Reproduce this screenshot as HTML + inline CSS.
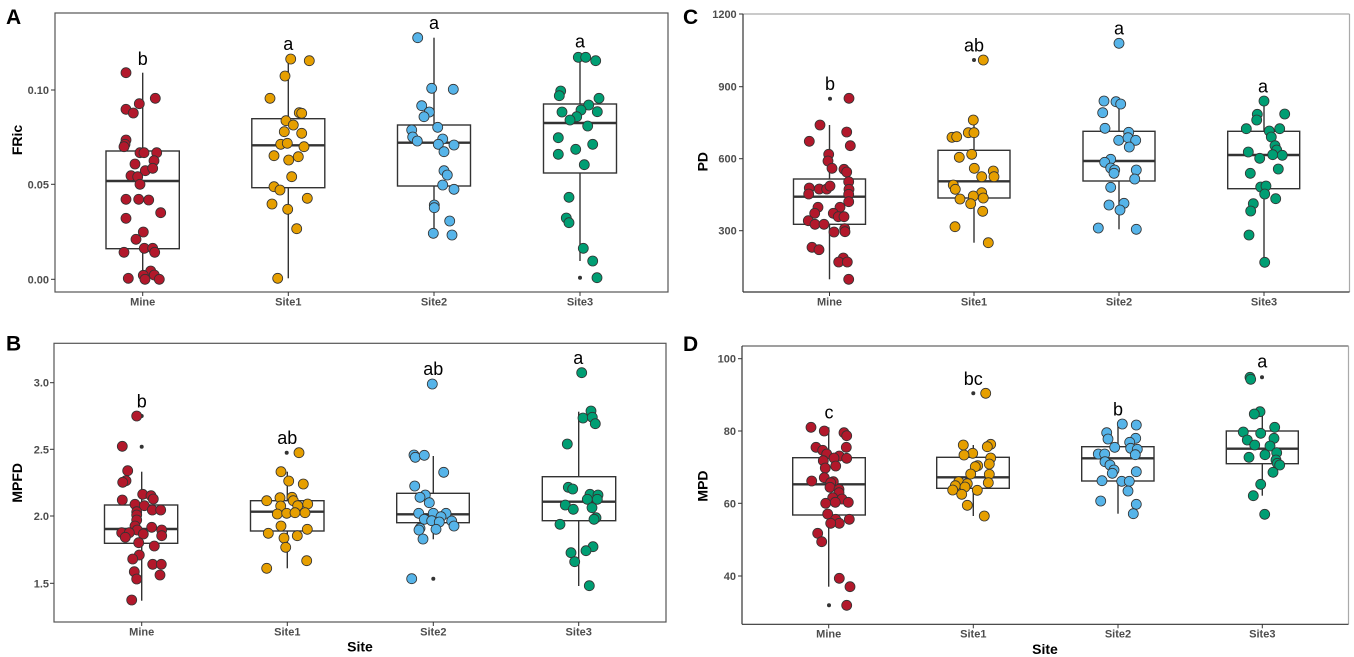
<!DOCTYPE html>
<html><head><meta charset="utf-8"><style>
html,body{margin:0;padding:0;background:#fff;}
svg{display:block;}
text{font-family:"Liberation Sans",Arial,sans-serif;}
.tl{font-size:11px;font-weight:bold;fill:#4D4D4D;}
.at{font-size:14px;font-weight:bold;fill:#000;}
.pl{font-size:21px;font-weight:bold;fill:#000;}
.lt{font-size:18px;fill:#000;}
.r circle{fill:#B2182B;stroke:#333;stroke-width:0.8;}
.o circle{fill:#E69F00;stroke:#333;stroke-width:0.8;}
.b circle{fill:#56B4E9;stroke:#333;stroke-width:0.8;}
.g circle{fill:#009E73;stroke:#333;stroke-width:0.8;}
.bx rect{fill:#fff;stroke:#333;stroke-width:1.4;}
.bx line{stroke:#333;stroke-width:1.4;}
.bx line.m{stroke-width:2.4;}
.od{fill:#333;}
.tk line{stroke:#333;stroke-width:1;}
</style></head><body>
<svg width="1354" height="657" viewBox="0 0 1354 657" xmlns="http://www.w3.org/2000/svg">
<rect width="1354" height="657" fill="#fff"/>

<!-- ================= PANEL A ================= -->
<rect x="55" y="13" width="613" height="279" fill="#fff" stroke="#555" stroke-width="1.2"/>
<g class="tk">
<line x1="51" y1="90" x2="55" y2="90"/><line x1="51" y1="184.3" x2="55" y2="184.3"/><line x1="51" y1="279.3" x2="55" y2="279.3"/>
<line x1="142.7" y1="292" x2="142.7" y2="296"/><line x1="288.3" y1="292" x2="288.3" y2="296"/><line x1="434" y1="292" x2="434" y2="296"/><line x1="580" y1="292" x2="580" y2="296"/>
</g>
<text class="tl" x="49" y="94" text-anchor="end">0.10</text>
<text class="tl" x="49" y="188.3" text-anchor="end">0.05</text>
<text class="tl" x="49" y="283.3" text-anchor="end">0.00</text>
<text class="tl" x="142.7" y="305.5" text-anchor="middle">Mine</text>
<text class="tl" x="288.3" y="305.5" text-anchor="middle">Site1</text>
<text class="tl" x="434" y="305.5" text-anchor="middle">Site2</text>
<text class="tl" x="580" y="305.5" text-anchor="middle">Site3</text>
<text class="at" transform="translate(22,140) rotate(-90)" text-anchor="middle">FRic</text>
<text class="pl" x="6" y="24">A</text>
<g class="bx">
<line x1="142.7" y1="72.7" x2="142.7" y2="151"/><line x1="142.7" y1="248.7" x2="142.7" y2="279.3"/>
<rect x="106" y="151" width="73.3" height="97.7"/><line class="m" x1="106" y1="181" x2="179.3" y2="181"/>
<line x1="288.3" y1="62.7" x2="288.3" y2="118.7"/><line x1="288.3" y1="187.7" x2="288.3" y2="278.3"/>
<rect x="251.8" y="118.7" width="73" height="69"/><line class="m" x1="251.8" y1="145.3" x2="324.8" y2="145.3"/>
<line x1="434" y1="37.7" x2="434" y2="125"/><line x1="434" y1="186" x2="434" y2="233.3"/>
<rect x="397.5" y="125" width="73" height="61"/><line class="m" x1="397.5" y1="142.7" x2="470.5" y2="142.7"/>
<line x1="580" y1="57.3" x2="580" y2="104"/><line x1="580" y1="173" x2="580" y2="261"/>
<rect x="543.5" y="104" width="73" height="69"/><line class="m" x1="543.5" y1="123" x2="616.5" y2="123"/>
</g>
<circle class="od" cx="580" cy="277.7" r="2"/>
<g class="r">
<circle cx="126" cy="72.7" r="5"/><circle cx="155.3" cy="98.3" r="5"/><circle cx="139.3" cy="103.7" r="5"/><circle cx="126" cy="109.3" r="5"/><circle cx="133.3" cy="113" r="5"/><circle cx="126" cy="140" r="5"/><circle cx="125" cy="144.3" r="5"/><circle cx="124" cy="146.7" r="5"/><circle cx="140" cy="152.7" r="5"/><circle cx="144" cy="152.7" r="5"/><circle cx="156.7" cy="152.7" r="5"/><circle cx="154" cy="160.7" r="5"/><circle cx="135" cy="164" r="5"/><circle cx="145.3" cy="170.7" r="5"/><circle cx="152.7" cy="168.3" r="5"/><circle cx="131" cy="175.7" r="5"/><circle cx="137.7" cy="176.7" r="5"/><circle cx="140" cy="184.3" r="5"/><circle cx="126" cy="199.3" r="5"/><circle cx="138.7" cy="199.3" r="5"/><circle cx="148.7" cy="200" r="5"/><circle cx="160.7" cy="212.7" r="5"/><circle cx="126" cy="218.3" r="5"/><circle cx="143.3" cy="232" r="5"/><circle cx="136" cy="239.3" r="5"/><circle cx="124" cy="252.3" r="5"/><circle cx="144.3" cy="248.3" r="5"/><circle cx="152.7" cy="248.3" r="5"/><circle cx="154.7" cy="252.3" r="5"/><circle cx="150.7" cy="271" r="5"/><circle cx="143.3" cy="275.3" r="5"/><circle cx="154.3" cy="275" r="5"/><circle cx="128.3" cy="278.3" r="5"/><circle cx="145" cy="279.3" r="5"/><circle cx="159.3" cy="279.3" r="5"/>
</g>
<g class="o">
<circle cx="290.7" cy="59" r="5"/><circle cx="309.3" cy="60.7" r="5"/><circle cx="285" cy="76" r="5"/><circle cx="270" cy="98.3" r="5"/><circle cx="299.3" cy="112.7" r="5"/><circle cx="301.7" cy="113.3" r="5"/><circle cx="286" cy="120.7" r="5"/><circle cx="293.3" cy="125" r="5"/><circle cx="284.3" cy="131.7" r="5"/><circle cx="301.7" cy="133.3" r="5"/><circle cx="280.7" cy="144.3" r="5"/><circle cx="287.3" cy="143.3" r="5"/><circle cx="304" cy="146.7" r="5"/><circle cx="274" cy="155.7" r="5"/><circle cx="298.3" cy="156.7" r="5"/><circle cx="288.7" cy="160" r="5"/><circle cx="291.7" cy="176.7" r="5"/><circle cx="274" cy="186.7" r="5"/><circle cx="280" cy="190" r="5"/><circle cx="307.3" cy="198.3" r="5"/><circle cx="272" cy="204" r="5"/><circle cx="287.7" cy="209.3" r="5"/><circle cx="296.7" cy="228.7" r="5"/><circle cx="277.7" cy="278.3" r="5"/>
</g>
<g class="b">
<circle cx="417.7" cy="37.7" r="5"/><circle cx="431.7" cy="88.3" r="5"/><circle cx="453.3" cy="89.3" r="5"/><circle cx="421.7" cy="105.7" r="5"/><circle cx="429.3" cy="112" r="5"/><circle cx="424" cy="116.7" r="5"/><circle cx="437.7" cy="127.3" r="5"/><circle cx="411.7" cy="130" r="5"/><circle cx="412.7" cy="137" r="5"/><circle cx="417.3" cy="141" r="5"/><circle cx="442.7" cy="139" r="5"/><circle cx="438.3" cy="144.3" r="5"/><circle cx="454" cy="145" r="5"/><circle cx="444" cy="151.7" r="5"/><circle cx="444" cy="170.7" r="5"/><circle cx="447.3" cy="175" r="5"/><circle cx="442.7" cy="185" r="5"/><circle cx="454" cy="189.3" r="5"/><circle cx="434.3" cy="205" r="5"/><circle cx="434.3" cy="207.7" r="5"/><circle cx="449.7" cy="221" r="5"/><circle cx="433.3" cy="233.3" r="5"/><circle cx="452" cy="235" r="5"/>
</g>
<g class="g">
<circle cx="578.3" cy="57.3" r="5"/><circle cx="585.7" cy="57.3" r="5"/><circle cx="595.7" cy="60.7" r="5"/><circle cx="560.7" cy="91" r="5"/><circle cx="559.3" cy="95.7" r="5"/><circle cx="599" cy="98.3" r="5"/><circle cx="588.7" cy="105" r="5"/><circle cx="581" cy="110" r="5"/><circle cx="562" cy="112" r="5"/><circle cx="597.3" cy="111.7" r="5"/><circle cx="576.7" cy="116.7" r="5"/><circle cx="570" cy="120" r="5"/><circle cx="587.7" cy="126" r="5"/><circle cx="558.3" cy="137.7" r="5"/><circle cx="592.7" cy="144.3" r="5"/><circle cx="575.7" cy="149.3" r="5"/><circle cx="558.3" cy="154.3" r="5"/><circle cx="584.3" cy="164.7" r="5"/><circle cx="569" cy="197.3" r="5"/><circle cx="566.3" cy="218" r="5"/><circle cx="569" cy="222.7" r="5"/><circle cx="583.3" cy="248.3" r="5"/><circle cx="592.7" cy="261" r="5"/><circle cx="597" cy="277.7" r="5"/>
</g>
<text class="lt" x="142.7" y="65" text-anchor="middle">b</text>
<text class="lt" x="288.3" y="50" text-anchor="middle">a</text>
<text class="lt" x="434" y="29" text-anchor="middle">a</text>
<text class="lt" x="580" y="47.7" text-anchor="middle">a</text>

<!-- ================= PANEL C ================= -->
<line x1="743" y1="14" x2="1349.5" y2="14" stroke="#aaa" stroke-width="1.2"/>
<line x1="1349.5" y1="14" x2="1349.5" y2="292" stroke="#aaa" stroke-width="1.2"/>
<line x1="743" y1="14" x2="743" y2="292" stroke="#333" stroke-width="1.2"/>
<line x1="743" y1="292" x2="1349.5" y2="292" stroke="#333" stroke-width="1.2"/>
<g class="tk">
<line x1="739" y1="14" x2="743" y2="14"/><line x1="739" y1="86.7" x2="743" y2="86.7"/><line x1="739" y1="158.7" x2="743" y2="158.7"/><line x1="739" y1="230.7" x2="743" y2="230.7"/>
<line x1="829.5" y1="292" x2="829.5" y2="296"/><line x1="974" y1="292" x2="974" y2="296"/><line x1="1119" y1="292" x2="1119" y2="296"/><line x1="1264" y1="292" x2="1264" y2="296"/>
</g>
<text class="tl" x="736.7" y="18" text-anchor="end">1200</text>
<text class="tl" x="736.7" y="90.7" text-anchor="end">900</text>
<text class="tl" x="736.7" y="162.7" text-anchor="end">600</text>
<text class="tl" x="736.7" y="234.7" text-anchor="end">300</text>
<text class="tl" x="829.5" y="305.5" text-anchor="middle">Mine</text>
<text class="tl" x="974" y="305.5" text-anchor="middle">Site1</text>
<text class="tl" x="1119" y="305.5" text-anchor="middle">Site2</text>
<text class="tl" x="1264" y="305.5" text-anchor="middle">Site3</text>
<text class="at" transform="translate(707.5,161.7) rotate(-90)" text-anchor="middle">PD</text>
<text class="pl" x="683" y="24">C</text>
<g class="bx">
<line x1="829.5" y1="125" x2="829.5" y2="179"/><line x1="829.5" y1="224.3" x2="829.5" y2="279.3"/>
<rect x="793.5" y="179" width="72" height="45.3"/><line class="m" x1="793.5" y1="196.7" x2="865.5" y2="196.7"/>
<line x1="974" y1="120" x2="974" y2="150.3"/><line x1="974" y1="198" x2="974" y2="242.7"/>
<rect x="938" y="150.3" width="72" height="47.7"/><line class="m" x1="938" y1="181.3" x2="1010" y2="181.3"/>
<line x1="1119" y1="101.7" x2="1119" y2="131.3"/><line x1="1119" y1="181" x2="1119" y2="229.3"/>
<rect x="1083" y="131.3" width="72" height="49.7"/><line class="m" x1="1083" y1="161" x2="1155" y2="161"/>
<line x1="1264" y1="101" x2="1264" y2="131.3"/><line x1="1264" y1="188.7" x2="1264" y2="262.3"/>
<rect x="1227.7" y="131.3" width="72" height="57.4"/><line class="m" x1="1227.7" y1="155" x2="1299.7" y2="155"/>
</g>
<circle class="od" cx="830" cy="98.7" r="2"/><circle class="od" cx="974" cy="60" r="2"/>
<g class="r">
<circle cx="849" cy="98.3" r="5"/><circle cx="820" cy="125" r="5"/><circle cx="846.7" cy="132" r="5"/><circle cx="809.3" cy="141.3" r="5"/><circle cx="850.3" cy="145.7" r="5"/><circle cx="828.7" cy="154.3" r="5"/><circle cx="828" cy="161" r="5"/><circle cx="832" cy="168.3" r="5"/><circle cx="844" cy="169.3" r="5"/><circle cx="846.7" cy="172" r="5"/><circle cx="848.7" cy="181.7" r="5"/><circle cx="809.3" cy="188" r="5"/><circle cx="819.3" cy="189" r="5"/><circle cx="826.7" cy="189" r="5"/><circle cx="830" cy="186" r="5"/><circle cx="849" cy="189.3" r="5"/><circle cx="808.7" cy="194" r="5"/><circle cx="848.7" cy="194.3" r="5"/><circle cx="848.7" cy="201.7" r="5"/><circle cx="818" cy="207.3" r="5"/><circle cx="840" cy="207.3" r="5"/><circle cx="814.7" cy="213.3" r="5"/><circle cx="833.3" cy="213.3" r="5"/><circle cx="838.3" cy="216.7" r="5"/><circle cx="844" cy="216.7" r="5"/><circle cx="808.3" cy="220.7" r="5"/><circle cx="815" cy="224.3" r="5"/><circle cx="824" cy="224.3" r="5"/><circle cx="844.7" cy="228.7" r="5"/><circle cx="834" cy="232" r="5"/><circle cx="845" cy="231.7" r="5"/><circle cx="812" cy="247.3" r="5"/><circle cx="819" cy="249.7" r="5"/><circle cx="843.3" cy="258" r="5"/><circle cx="838.7" cy="262" r="5"/><circle cx="847.3" cy="262" r="5"/><circle cx="848.7" cy="279.3" r="5"/>
</g>
<g class="o">
<circle cx="983.3" cy="60" r="5"/><circle cx="973.3" cy="120" r="5"/><circle cx="968.3" cy="132.7" r="5"/><circle cx="974" cy="132.7" r="5"/><circle cx="952" cy="137.3" r="5"/><circle cx="956.7" cy="136.7" r="5"/><circle cx="971.7" cy="154.3" r="5"/><circle cx="959.3" cy="157.3" r="5"/><circle cx="974.3" cy="168.3" r="5"/><circle cx="993.3" cy="171" r="5"/><circle cx="981.7" cy="176.7" r="5"/><circle cx="994" cy="176.7" r="5"/><circle cx="953.3" cy="185" r="5"/><circle cx="955.3" cy="189.3" r="5"/><circle cx="981.7" cy="192.7" r="5"/><circle cx="973.3" cy="196" r="5"/><circle cx="960" cy="199" r="5"/><circle cx="983.3" cy="198" r="5"/><circle cx="970.7" cy="203.7" r="5"/><circle cx="982.7" cy="211.3" r="5"/><circle cx="955" cy="226.7" r="5"/><circle cx="988.3" cy="242.7" r="5"/>
</g>
<g class="b">
<circle cx="1119" cy="43.3" r="5"/><circle cx="1104" cy="101" r="5"/><circle cx="1116" cy="101.7" r="5"/><circle cx="1120.7" cy="104" r="5"/><circle cx="1102.7" cy="112.7" r="5"/><circle cx="1105" cy="128.3" r="5"/><circle cx="1128.7" cy="132.3" r="5"/><circle cx="1118.7" cy="140.3" r="5"/><circle cx="1128" cy="137.7" r="5"/><circle cx="1135.7" cy="140.3" r="5"/><circle cx="1129.3" cy="147" r="5"/><circle cx="1110.7" cy="159.3" r="5"/><circle cx="1104.7" cy="162.3" r="5"/><circle cx="1110.7" cy="168" r="5"/><circle cx="1114.7" cy="170" r="5"/><circle cx="1114" cy="173.3" r="5"/><circle cx="1136.3" cy="170" r="5"/><circle cx="1134.7" cy="179" r="5"/><circle cx="1110.7" cy="187.3" r="5"/><circle cx="1124" cy="203.3" r="5"/><circle cx="1109" cy="205" r="5"/><circle cx="1120" cy="210" r="5"/><circle cx="1098.3" cy="228" r="5"/><circle cx="1136.3" cy="229.3" r="5"/>
</g>
<g class="g">
<circle cx="1264" cy="101" r="5"/><circle cx="1257.3" cy="114.3" r="5"/><circle cx="1284.7" cy="114" r="5"/><circle cx="1256.7" cy="120" r="5"/><circle cx="1246.3" cy="128.7" r="5"/><circle cx="1269.3" cy="131" r="5"/><circle cx="1279.7" cy="128.7" r="5"/><circle cx="1271.3" cy="137" r="5"/><circle cx="1275" cy="145.7" r="5"/><circle cx="1276.7" cy="150" r="5"/><circle cx="1248.3" cy="152" r="5"/><circle cx="1272.7" cy="154.7" r="5"/><circle cx="1282.3" cy="155.3" r="5"/><circle cx="1259.7" cy="158.3" r="5"/><circle cx="1278.3" cy="169" r="5"/><circle cx="1250.3" cy="173.3" r="5"/><circle cx="1260.7" cy="187" r="5"/><circle cx="1266" cy="186" r="5"/><circle cx="1264.7" cy="194" r="5"/><circle cx="1275.7" cy="198.7" r="5"/><circle cx="1253.3" cy="203.7" r="5"/><circle cx="1250.7" cy="211" r="5"/><circle cx="1249" cy="235" r="5"/><circle cx="1264.7" cy="262.3" r="5"/>
</g>
<text class="lt" x="830" y="90" text-anchor="middle">b</text>
<text class="lt" x="974" y="51.7" text-anchor="middle">ab</text>
<text class="lt" x="1119" y="34.3" text-anchor="middle">a</text>
<text class="lt" x="1263" y="92.7" text-anchor="middle">a</text>

<!-- ================= PANEL B ================= -->
<rect x="54" y="343.3" width="612" height="278.7" fill="#fff" stroke="#555" stroke-width="1.2"/>
<g class="tk">
<line x1="50" y1="382.7" x2="54" y2="382.7"/><line x1="50" y1="449.3" x2="54" y2="449.3"/><line x1="50" y1="516" x2="54" y2="516"/><line x1="50" y1="583.3" x2="54" y2="583.3"/>
<line x1="141.7" y1="622" x2="141.7" y2="626"/><line x1="287.3" y1="622" x2="287.3" y2="626"/><line x1="433.3" y1="622" x2="433.3" y2="626"/><line x1="578.7" y1="622" x2="578.7" y2="626"/>
</g>
<text class="tl" x="49" y="386.7" text-anchor="end">3.0</text>
<text class="tl" x="49" y="453.3" text-anchor="end">2.5</text>
<text class="tl" x="49" y="520" text-anchor="end">2.0</text>
<text class="tl" x="49" y="587.3" text-anchor="end">1.5</text>
<text class="tl" x="141.7" y="635.5" text-anchor="middle">Mine</text>
<text class="tl" x="287.3" y="635.5" text-anchor="middle">Site1</text>
<text class="tl" x="433.3" y="635.5" text-anchor="middle">Site2</text>
<text class="tl" x="578.7" y="635.5" text-anchor="middle">Site3</text>
<text class="at" transform="translate(22,482.8) rotate(-90)" text-anchor="middle">MPFD</text>
<text class="at" x="360" y="651.5" text-anchor="middle">Site</text>
<text class="pl" x="6" y="350.5">B</text>
<g class="bx">
<line x1="141.7" y1="471.7" x2="141.7" y2="505"/><line x1="141.7" y1="543.3" x2="141.7" y2="600.7"/>
<rect x="104.5" y="505" width="73.2" height="38.3"/><line class="m" x1="104.5" y1="529" x2="177.7" y2="529"/>
<line x1="287.3" y1="471.7" x2="287.3" y2="500.7"/><line x1="287.3" y1="531" x2="287.3" y2="568.3"/>
<rect x="250.5" y="500.7" width="73.5" height="30.3"/><line class="m" x1="250.5" y1="511.7" x2="324" y2="511.7"/>
<line x1="433.3" y1="456" x2="433.3" y2="493.3"/><line x1="433.3" y1="522.7" x2="433.3" y2="539.3"/>
<rect x="396.7" y="493.3" width="72.6" height="29.4"/><line class="m" x1="396.7" y1="514.3" x2="469.3" y2="514.3"/>
<line x1="578.7" y1="411.7" x2="578.7" y2="476.7"/><line x1="578.7" y1="520.7" x2="578.7" y2="586"/>
<rect x="542.3" y="476.7" width="73.4" height="44"/><line class="m" x1="542.3" y1="501.7" x2="615.7" y2="501.7"/>
</g>
<circle class="od" cx="141.7" cy="416" r="2"/><circle class="od" cx="141.7" cy="446.7" r="2"/><circle class="od" cx="286.7" cy="452.7" r="2"/><circle class="od" cx="433.3" cy="578.7" r="2"/>
<g class="r">
<circle cx="136.7" cy="416" r="5"/><circle cx="122.3" cy="446.3" r="5"/><circle cx="127.7" cy="470.7" r="5"/><circle cx="126" cy="480.7" r="5"/><circle cx="122.7" cy="482.3" r="5"/><circle cx="142.7" cy="494.3" r="5"/><circle cx="151" cy="495.7" r="5"/><circle cx="153.3" cy="499" r="5"/><circle cx="122.3" cy="500" r="5"/><circle cx="135" cy="504.3" r="5"/><circle cx="144.3" cy="505.7" r="5"/><circle cx="136.7" cy="511.7" r="5"/><circle cx="152.3" cy="510" r="5"/><circle cx="160.7" cy="510" r="5"/><circle cx="136.7" cy="515" r="5"/><circle cx="136.7" cy="520" r="5"/><circle cx="135" cy="526" r="5"/><circle cx="151.7" cy="527.3" r="5"/><circle cx="137.3" cy="530" r="5"/><circle cx="161.7" cy="530" r="5"/><circle cx="121.7" cy="532.7" r="5"/><circle cx="129.3" cy="532.7" r="5"/><circle cx="143.3" cy="534" r="5"/><circle cx="125.3" cy="537.3" r="5"/><circle cx="161.7" cy="535.7" r="5"/><circle cx="138.7" cy="542.7" r="5"/><circle cx="154.3" cy="546" r="5"/><circle cx="139.3" cy="555" r="5"/><circle cx="132.7" cy="559" r="5"/><circle cx="152.7" cy="564.3" r="5"/><circle cx="161.3" cy="564.3" r="5"/><circle cx="134.3" cy="571.7" r="5"/><circle cx="160" cy="575" r="5"/><circle cx="136.7" cy="579" r="5"/><circle cx="131.7" cy="600" r="5"/>
</g>
<g class="o">
<circle cx="299" cy="452.7" r="5"/><circle cx="281" cy="471.7" r="5"/><circle cx="288.7" cy="481" r="5"/><circle cx="303.3" cy="484" r="5"/><circle cx="280" cy="497.7" r="5"/><circle cx="292" cy="497.3" r="5"/><circle cx="266.7" cy="500.7" r="5"/><circle cx="293.3" cy="500.7" r="5"/><circle cx="297.7" cy="505.7" r="5"/><circle cx="307.7" cy="504" r="5"/><circle cx="280.7" cy="506" r="5"/><circle cx="277.3" cy="514" r="5"/><circle cx="286.7" cy="513.3" r="5"/><circle cx="295" cy="512.7" r="5"/><circle cx="305" cy="512.7" r="5"/><circle cx="281" cy="526" r="5"/><circle cx="307.3" cy="529.3" r="5"/><circle cx="268.3" cy="533.3" r="5"/><circle cx="297.3" cy="535.7" r="5"/><circle cx="284" cy="538" r="5"/><circle cx="285.7" cy="547.3" r="5"/><circle cx="306.7" cy="560.7" r="5"/><circle cx="266.7" cy="568.3" r="5"/>
</g>
<g class="b">
<circle cx="432.3" cy="384" r="5"/><circle cx="414" cy="455" r="5"/><circle cx="415.3" cy="457.3" r="5"/><circle cx="424.3" cy="455.3" r="5"/><circle cx="443.7" cy="472.3" r="5"/><circle cx="414.7" cy="486" r="5"/><circle cx="425.3" cy="495" r="5"/><circle cx="420" cy="497.3" r="5"/><circle cx="429.3" cy="502.7" r="5"/><circle cx="418.7" cy="513.3" r="5"/><circle cx="433.3" cy="513.3" r="5"/><circle cx="446" cy="513.3" r="5"/><circle cx="441" cy="516.7" r="5"/><circle cx="424.3" cy="519.3" r="5"/><circle cx="431.7" cy="520.7" r="5"/><circle cx="439.3" cy="522" r="5"/><circle cx="451.7" cy="521" r="5"/><circle cx="454" cy="526" r="5"/><circle cx="420" cy="528.3" r="5"/><circle cx="419" cy="530" r="5"/><circle cx="436" cy="529.3" r="5"/><circle cx="423" cy="539" r="5"/><circle cx="411.7" cy="578.7" r="5"/>
</g>
<g class="g">
<circle cx="581.7" cy="372.7" r="5"/><circle cx="591" cy="411" r="5"/><circle cx="583" cy="418" r="5"/><circle cx="592.3" cy="417.3" r="5"/><circle cx="595.3" cy="423.7" r="5"/><circle cx="567.3" cy="444" r="5"/><circle cx="568.3" cy="487.3" r="5"/><circle cx="572.7" cy="489" r="5"/><circle cx="590" cy="494.3" r="5"/><circle cx="598" cy="495" r="5"/><circle cx="587.3" cy="499.3" r="5"/><circle cx="597.3" cy="499.3" r="5"/><circle cx="565.3" cy="505" r="5"/><circle cx="573.3" cy="509.3" r="5"/><circle cx="592" cy="507.7" r="5"/><circle cx="596" cy="517.7" r="5"/><circle cx="594" cy="519.3" r="5"/><circle cx="560" cy="524.3" r="5"/><circle cx="593" cy="546.7" r="5"/><circle cx="586" cy="550.7" r="5"/><circle cx="571" cy="552.7" r="5"/><circle cx="574.7" cy="561.7" r="5"/><circle cx="589.3" cy="585.7" r="5"/>
</g>
<text class="lt" x="141.7" y="407.3" text-anchor="middle">b</text>
<text class="lt" x="287.3" y="444" text-anchor="middle">ab</text>
<text class="lt" x="433.3" y="375" text-anchor="middle">ab</text>
<text class="lt" x="578.3" y="364" text-anchor="middle">a</text>

<!-- ================= PANEL D ================= -->
<line x1="742" y1="346" x2="1348.5" y2="346" stroke="#666" stroke-width="1.2"/>
<line x1="1348.5" y1="346" x2="1348.5" y2="624.3" stroke="#aaa" stroke-width="1.2"/>
<line x1="742" y1="346" x2="742" y2="624.3" stroke="#333" stroke-width="1.2"/>
<line x1="742" y1="624.3" x2="1348.5" y2="624.3" stroke="#333" stroke-width="1.2"/>
<g class="tk">
<line x1="738" y1="358.7" x2="742" y2="358.7"/><line x1="738" y1="431" x2="742" y2="431"/><line x1="738" y1="503.3" x2="742" y2="503.3"/><line x1="738" y1="576" x2="742" y2="576"/>
<line x1="828.7" y1="624.3" x2="828.7" y2="628.3"/><line x1="973.3" y1="624.3" x2="973.3" y2="628.3"/><line x1="1118" y1="624.3" x2="1118" y2="628.3"/><line x1="1262.3" y1="624.3" x2="1262.3" y2="628.3"/>
</g>
<text class="tl" x="736" y="362.7" text-anchor="end">100</text>
<text class="tl" x="736" y="435" text-anchor="end">80</text>
<text class="tl" x="736" y="507.3" text-anchor="end">60</text>
<text class="tl" x="736" y="580" text-anchor="end">40</text>
<text class="tl" x="828.7" y="637.5" text-anchor="middle">Mine</text>
<text class="tl" x="973.3" y="637.5" text-anchor="middle">Site1</text>
<text class="tl" x="1118" y="637.5" text-anchor="middle">Site2</text>
<text class="tl" x="1262.3" y="637.5" text-anchor="middle">Site3</text>
<text class="at" transform="translate(707.5,486) rotate(-90)" text-anchor="middle">MPD</text>
<text class="at" x="1045" y="654" text-anchor="middle">Site</text>
<text class="pl" x="683" y="351">D</text>
<g class="bx">
<line x1="828.7" y1="427.3" x2="828.7" y2="457.7"/><line x1="828.7" y1="515" x2="828.7" y2="586.7"/>
<rect x="792.7" y="457.7" width="72.6" height="57.3"/><line class="m" x1="792.7" y1="484.3" x2="865.3" y2="484.3"/>
<line x1="973.3" y1="445" x2="973.3" y2="457.3"/><line x1="973.3" y1="488.3" x2="973.3" y2="516"/>
<rect x="936.7" y="457.3" width="72.6" height="31"/><line class="m" x1="936.7" y1="477.3" x2="1009.3" y2="477.3"/>
<line x1="1118" y1="424" x2="1118" y2="446.7"/><line x1="1118" y1="481" x2="1118" y2="513.7"/>
<rect x="1081.7" y="446.7" width="72.3" height="34.3"/><line class="m" x1="1081.7" y1="458.3" x2="1154" y2="458.3"/>
<line x1="1262.3" y1="411.7" x2="1262.3" y2="431"/><line x1="1262.3" y1="463.7" x2="1262.3" y2="495.7"/>
<rect x="1226.3" y="431" width="72" height="32.7"/><line class="m" x1="1226.3" y1="448.7" x2="1298.3" y2="448.7"/>
</g>
<circle class="od" cx="829" cy="605.3" r="2"/><circle class="od" cx="973.3" cy="393.3" r="2"/><circle class="od" cx="1262" cy="377.3" r="2"/>
<g class="r">
<circle cx="811" cy="427.3" r="5"/><circle cx="824.3" cy="431" r="5"/><circle cx="844" cy="432.7" r="5"/><circle cx="846.7" cy="435.7" r="5"/><circle cx="816" cy="447.3" r="5"/><circle cx="822.7" cy="450.3" r="5"/><circle cx="846.3" cy="447.3" r="5"/><circle cx="826.7" cy="454" r="5"/><circle cx="839.3" cy="456" r="5"/><circle cx="834" cy="458" r="5"/><circle cx="846.7" cy="458.3" r="5"/><circle cx="823.3" cy="460.7" r="5"/><circle cx="835.7" cy="466" r="5"/><circle cx="825.3" cy="468" r="5"/><circle cx="824.3" cy="477.7" r="5"/><circle cx="811.7" cy="481" r="5"/><circle cx="833.3" cy="481.7" r="5"/><circle cx="830.7" cy="482.7" r="5"/><circle cx="830" cy="487.3" r="5"/><circle cx="839" cy="489.3" r="5"/><circle cx="839" cy="492.7" r="5"/><circle cx="832.7" cy="497.7" r="5"/><circle cx="842" cy="499" r="5"/><circle cx="825.7" cy="503.3" r="5"/><circle cx="835.3" cy="502.3" r="5"/><circle cx="848.3" cy="502.3" r="5"/><circle cx="827.7" cy="514" r="5"/><circle cx="835.7" cy="519.3" r="5"/><circle cx="849.3" cy="519.3" r="5"/><circle cx="839.3" cy="523.3" r="5"/><circle cx="830.7" cy="523.3" r="5"/><circle cx="817.7" cy="533.3" r="5"/><circle cx="821.7" cy="541.7" r="5"/><circle cx="839.3" cy="578.3" r="5"/><circle cx="850" cy="586.7" r="5"/><circle cx="846.7" cy="605.3" r="5"/>
</g>
<g class="o">
<circle cx="985.7" cy="393.3" r="5"/><circle cx="963.3" cy="445" r="5"/><circle cx="990.7" cy="444.3" r="5"/><circle cx="987.3" cy="446.7" r="5"/><circle cx="972.7" cy="453.3" r="5"/><circle cx="964" cy="455" r="5"/><circle cx="990.7" cy="458" r="5"/><circle cx="977.7" cy="465.7" r="5"/><circle cx="975.3" cy="466.7" r="5"/><circle cx="989.3" cy="464" r="5"/><circle cx="970.7" cy="474" r="5"/><circle cx="989.3" cy="474.3" r="5"/><circle cx="988.3" cy="482.7" r="5"/><circle cx="958.7" cy="481.7" r="5"/><circle cx="967.3" cy="483.7" r="5"/><circle cx="955.3" cy="485.7" r="5"/><circle cx="965" cy="487" r="5"/><circle cx="952.7" cy="490" r="5"/><circle cx="977.3" cy="490.3" r="5"/><circle cx="961.7" cy="494.3" r="5"/><circle cx="967.3" cy="505.3" r="5"/><circle cx="984.3" cy="516" r="5"/>
</g>
<g class="b">
<circle cx="1122.3" cy="424" r="5"/><circle cx="1136.3" cy="425" r="5"/><circle cx="1106.7" cy="432.7" r="5"/><circle cx="1108" cy="439" r="5"/><circle cx="1135.7" cy="438.3" r="5"/><circle cx="1129.7" cy="442.3" r="5"/><circle cx="1114.7" cy="447.3" r="5"/><circle cx="1130.7" cy="448.3" r="5"/><circle cx="1137.3" cy="449.3" r="5"/><circle cx="1098.3" cy="454" r="5"/><circle cx="1104.7" cy="454" r="5"/><circle cx="1135.3" cy="454.7" r="5"/><circle cx="1105" cy="461.7" r="5"/><circle cx="1110" cy="465" r="5"/><circle cx="1114" cy="470" r="5"/><circle cx="1112.3" cy="473.3" r="5"/><circle cx="1136.3" cy="471.7" r="5"/><circle cx="1102" cy="480.7" r="5"/><circle cx="1121.7" cy="481.3" r="5"/><circle cx="1129.3" cy="481.3" r="5"/><circle cx="1128" cy="491" r="5"/><circle cx="1100.7" cy="501" r="5"/><circle cx="1136.3" cy="504.3" r="5"/><circle cx="1133.3" cy="513.7" r="5"/>
</g>
<g class="g">
<circle cx="1250" cy="377.3" r="5"/><circle cx="1250.7" cy="379.3" r="5"/><circle cx="1260" cy="411.7" r="5"/><circle cx="1254.3" cy="414" r="5"/><circle cx="1274.7" cy="427.3" r="5"/><circle cx="1243.3" cy="432" r="5"/><circle cx="1260.7" cy="433.3" r="5"/><circle cx="1274" cy="438.3" r="5"/><circle cx="1247.3" cy="440" r="5"/><circle cx="1254.7" cy="445" r="5"/><circle cx="1270" cy="446" r="5"/><circle cx="1276.7" cy="452.7" r="5"/><circle cx="1265" cy="454.7" r="5"/><circle cx="1249" cy="457.3" r="5"/><circle cx="1276" cy="460" r="5"/><circle cx="1277.3" cy="463.3" r="5"/><circle cx="1279.7" cy="465" r="5"/><circle cx="1273" cy="472.3" r="5"/><circle cx="1260.7" cy="484.3" r="5"/><circle cx="1253.3" cy="495.7" r="5"/><circle cx="1264.7" cy="514.3" r="5"/>
</g>
<text class="lt" x="829" y="418.3" text-anchor="middle">c</text>
<text class="lt" x="973.3" y="385" text-anchor="middle">bc</text>
<text class="lt" x="1118" y="415.7" text-anchor="middle">b</text>
<text class="lt" x="1262.3" y="367.7" text-anchor="middle">a</text>
</svg>
</body></html>
